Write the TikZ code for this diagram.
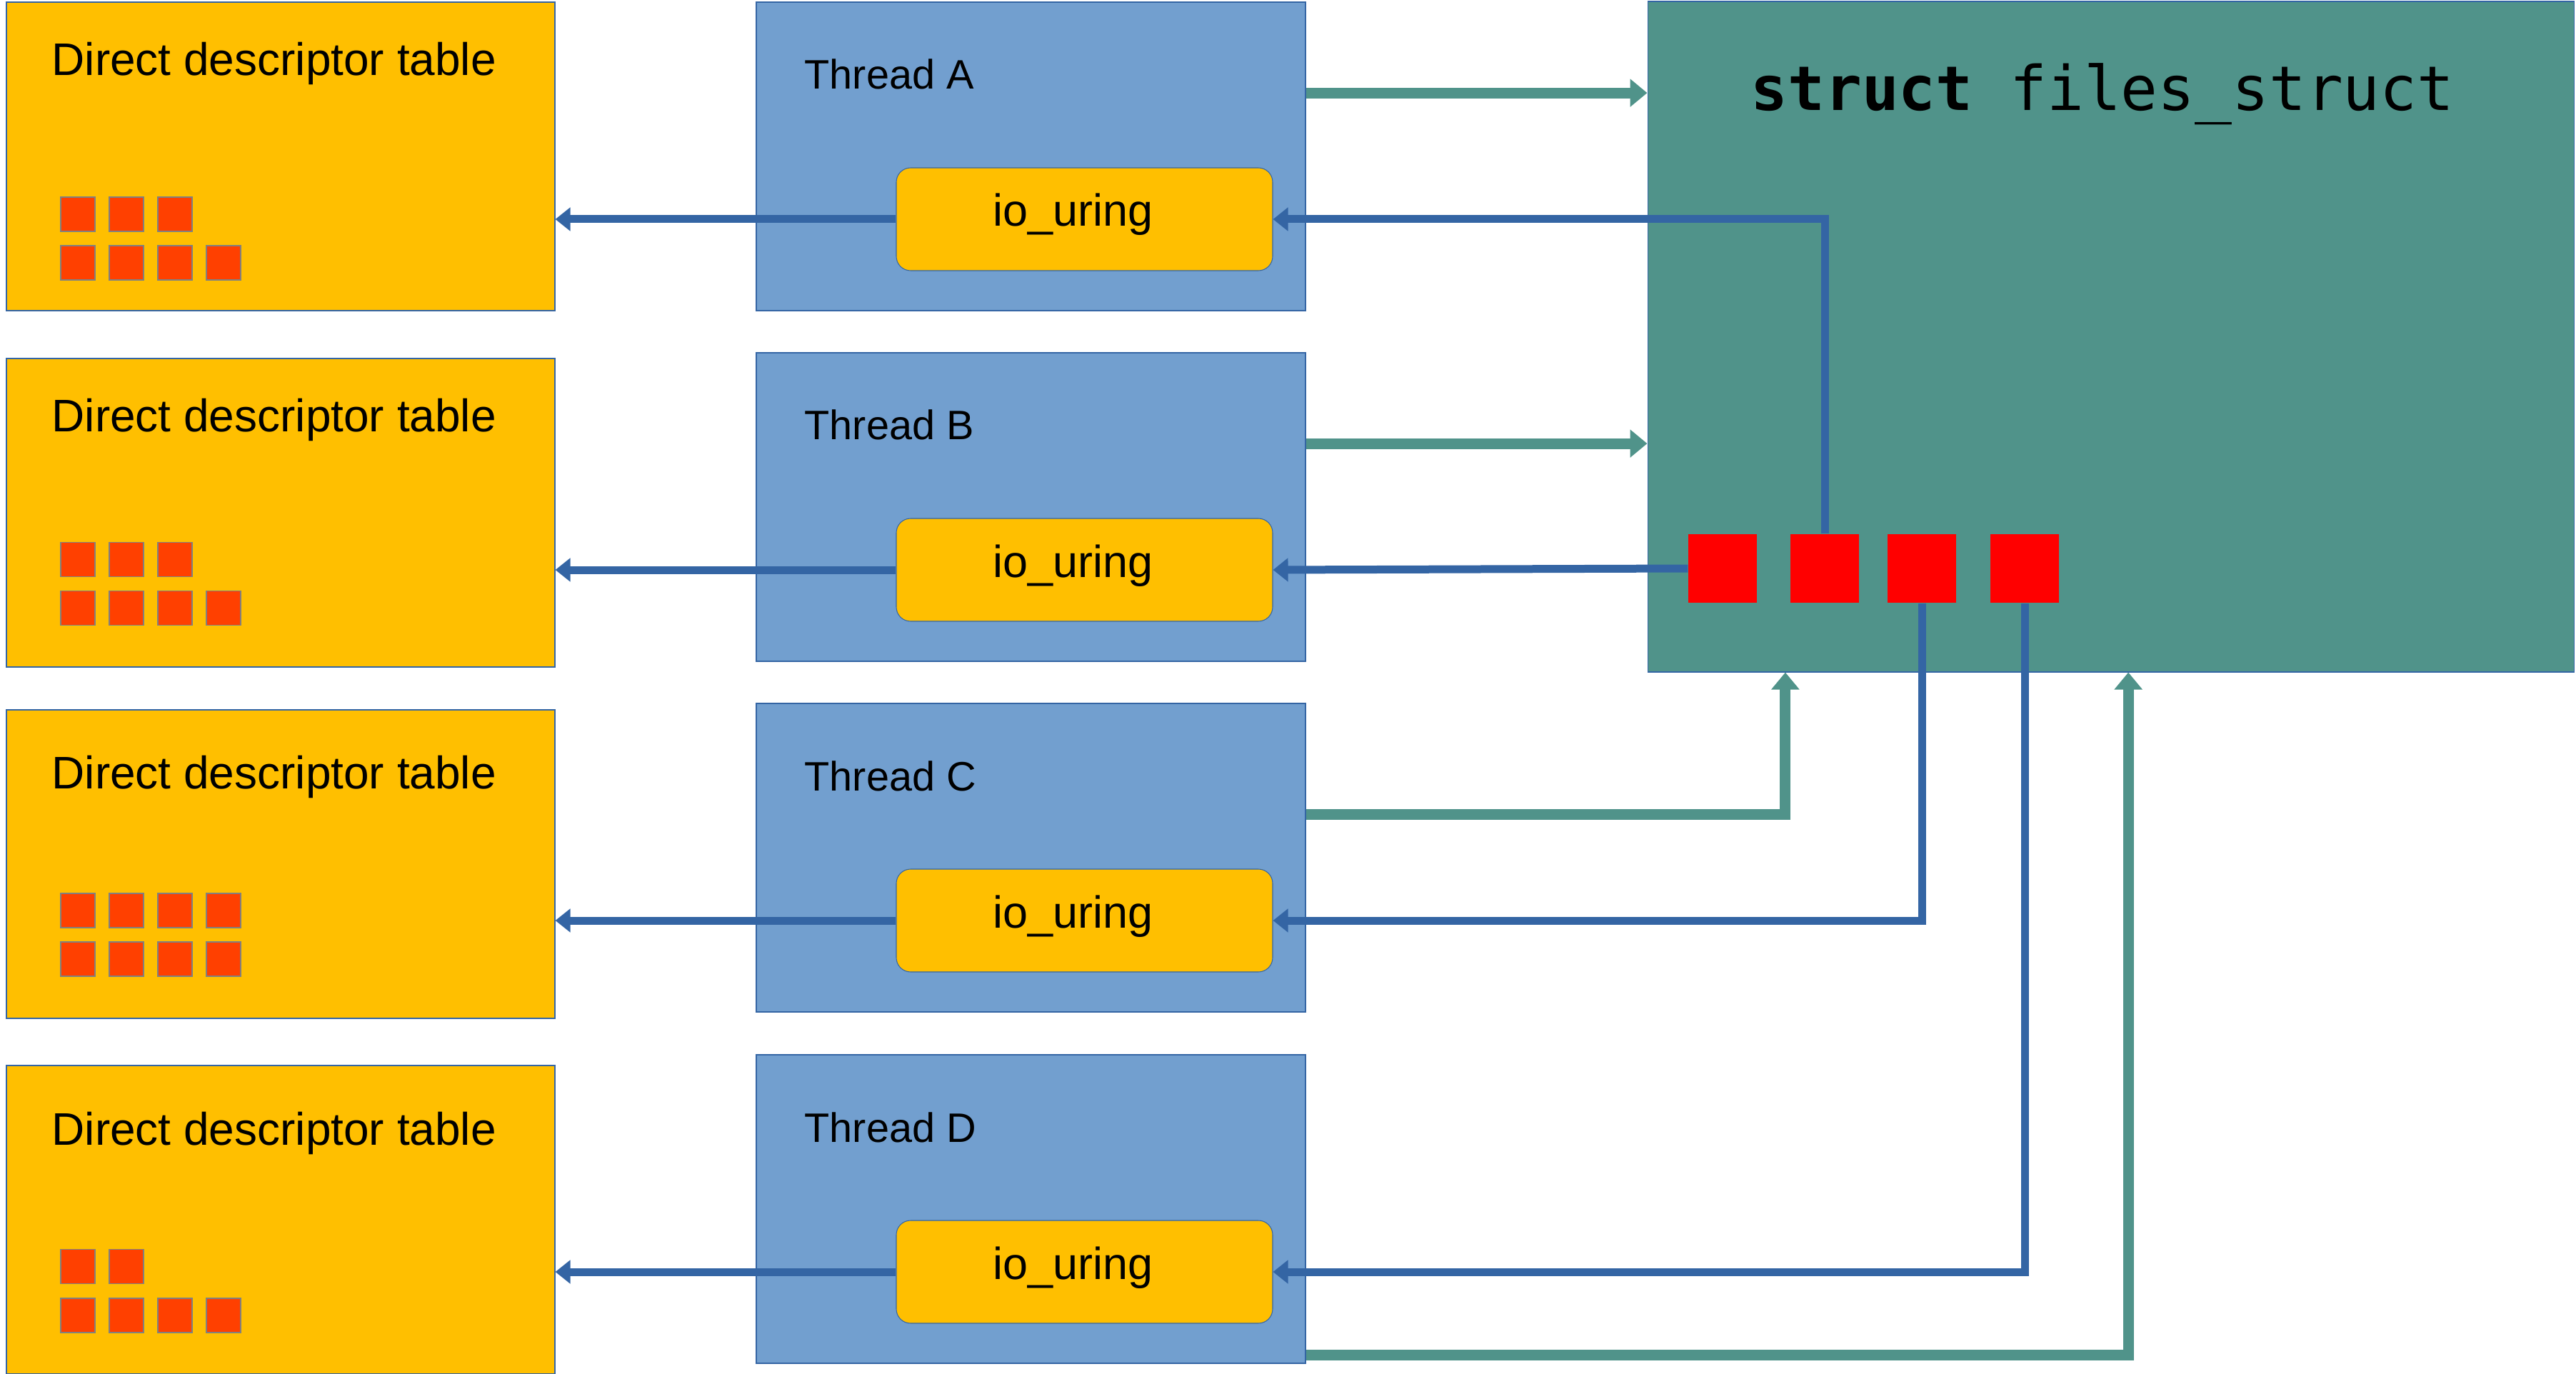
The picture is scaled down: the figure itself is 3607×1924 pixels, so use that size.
\documentclass[tikz,border=0pt]{standalone}
\usepackage{fontspec}
\setmainfont{Liberation Sans}
\setmonofont{DejaVu Sans Mono}
\usepackage{xcolor}
\usepackage{tikz}
\usetikzlibrary{arrows.meta}
\usetikzlibrary{calc}
\definecolor{gold}{HTML}{FFBF00}
\definecolor{brick}{HTML}{FF4000}
\definecolor{threadblue}{HTML}{729FCF}
\definecolor{lineblue}{HTML}{3465A4}
\definecolor{shared}{HTML}{50938A}

\begin{document}
\begin{tikzpicture}[x=0.1mm,y=-0.1mm,
  tbl/.style={draw=lineblue,line width=0.3pt,fill=gold,minimum width=76.8mm,minimum height=43.2mm,inner sep=0pt},
  fd/.style={draw=gray,line width=0.3pt,fill=brick,minimum size=4.8mm,inner sep=0pt},
  thr/.style={draw=lineblue,line width=0.3pt,fill=threadblue,minimum width=76.9mm,minimum height=43.2mm,inner sep=0pt},
  ring/.style={draw=lineblue,line width=0.3pt,fill=gold,rounded corners=2mm,minimum width=52.7mm,minimum height=14.4mm,inner sep=0pt,text height=3mm,text depth=1mm,font=\fontsize{17.9}{20}\selectfont},
  slot/.style={fill=red,minimum size=9.6mm,inner sep=0pt},
  share/.style={shared,line width=1.5mm,-{Triangle[length=2.4mm,width=3.8mm]}},
  ptr/.style={lineblue,line width=1.1mm,-{Triangle[length=2.1mm,width=3.2mm]}}]
\useasboundingbox (0,0) rectangle (3607,1924);

\node[draw=lineblue,line width=0.3pt,fill=shared,minimum width=129.7mm,minimum height=93.9mm,inner sep=0pt] (fs) at (2955.5,471.5) {};
\node[anchor=base,inner sep=0pt,font=\fontsize{24.5}{28}\selectfont\ttfamily] (fstitle) at (2944,155) {\textbf{struct} files\_struct};
\foreach \i/\x in {1/2412,2/2555,3/2691,4/2835}
  \node[slot] (slot\i) at (\x,796) {};

\foreach \t/\ty/\hy/\tb/\hb in {A/219/219/106/125, B/718/710/605/616, C/1210/1201/1104/1107, D/1708/1693/1603/1599} {
  \node[tbl] (tab\t) at (393,\ty) {};
  \node[anchor=base west,inner sep=0pt,font=\fontsize{18.2}{20}\selectfont] (dt\t) at (72,\tb) {Direct descriptor table};
  \node[thr] (th\t) at (1443.5,\hy) {};
  \node[anchor=base west,inner sep=0pt,font=\fontsize{16.4}{18}\selectfont] (tn\t) at (1126,\hb) {Thread \t};
  \node[ring] (io\t) at (1518.5,\hy+88) {io\_uring\kern3.2mm};
  \draw[ptr] (io\t.west) -- (io\t.west -| tab\t.east);
}

\foreach \t/\ra/\rb/\k in {A/300/368/3, B/783.5/851.5/3, C/1275/1343/4, D/1773.5/1842/2} {
  \foreach \c in {1,...,\k}
    \node[fd] (fd\t a\c) at (41+68*\c,\ra) {};
  \foreach \c in {1,...,4}
    \node[fd] (fd\t b\c) at (41+68*\c,\rb) {};
}

\draw[ptr] (slot2.north) |- (ioA.east);
\draw[ptr] (slot1.west) -- (ioB.east);
\draw[ptr] (slot3.south) |- (ioC.east);
\draw[ptr] (slot4.south) |- (ioD.east);

\draw[share] (thA.13.3) -- (thA.13.3 -| fs.west);
\draw[share] (thB.13.9) -- (thB.13.9 -| fs.west);
\draw[share] (thC.9.3) -| ($(fs.south west)!0.149!(fs.south east)$);
\draw[share] (thD.-28.5) -| ($(fs.south west)!0.519!(fs.south east)$);
\end{tikzpicture}
\end{document}
